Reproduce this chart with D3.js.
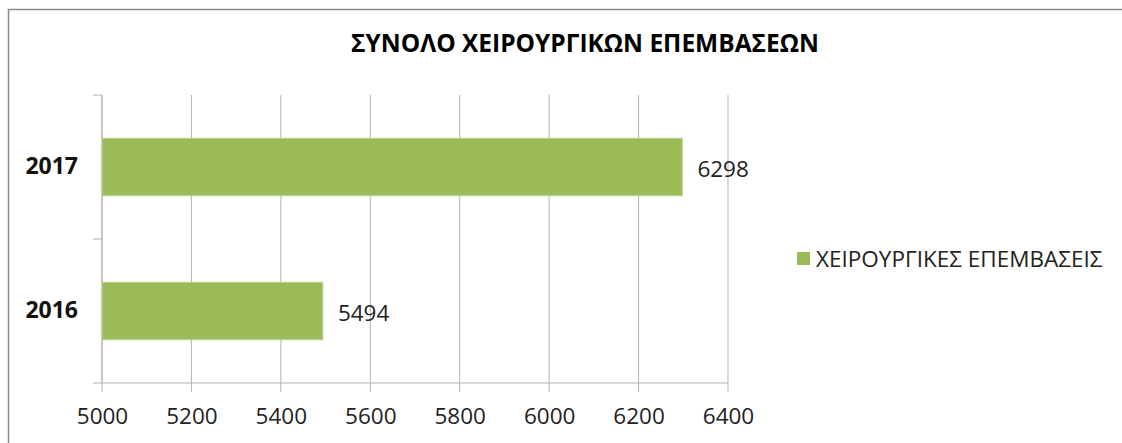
<!DOCTYPE html>
<html>
<head>
<meta charset="utf-8">
<script src="https://cdn.jsdelivr.net/npm/d3@7"></script>
<style>
  body { margin: 0; background: #fff; }
  text { font-family: "Open Sans", "DejaVu Sans", sans-serif; }
</style>
</head>
<body>
<div id="chart"></div>
<script>
// data
var years = ["2017", "2016"];
var surgeries = [6298, 5494];
var xTicks = [5000, 5200, 5400, 5600, 5800, 6000, 6200, 6400];
var seriesName = "ΧΕΙΡΟΥΡΓΙΚΕΣ ΕΠΕΜΒΑΣΕΙΣ";
var title = "ΣΥΝΟΛΟ ΧΕΙΡΟΥΡΓΙΚΩΝ ΕΠΕΜΒΑΣΕΩΝ";

var W = 1122, H = 443;
var margin = {top: 95, left: 102, right: 394, bottom: 60};
var width = W - margin.left - margin.right,
    height = H - margin.top - margin.bottom;

var svg = d3.select("#chart").append("svg")
    .attr("width", W)
    .attr("height", H);

// outer chart frame (runs off the right/bottom edge)
svg.append("rect")
    .attr("x", 8.5).attr("y", 9.5)
    .attr("width", W + 20).attr("height", H + 20)
    .attr("fill", "none")
    .attr("stroke", "#8a8a8a")
    .attr("stroke-width", 1.5);

svg.append("text")
    .attr("x", 585).attr("y", 52)
    .attr("text-anchor", "middle")
    .style("font-size", "24.5px")
    .style("font-weight", "bold")
    .text(title);

var g = svg.append("g")
    .attr("transform", "translate(" + margin.left + "," + margin.top + ")");

var x = d3.scaleLinear()
    .domain([5000, 6400])
    .range([0, width]);

var y = d3.scaleBand()
    .domain(years)
    .range([0, height])
    .paddingInner(0.6)
    .paddingOuter(0.3);

// gridlines
g.selectAll(".grid")
    .data(xTicks)
    .enter().append("line")
    .attr("x1", function(d) { return x(d); })
    .attr("x2", function(d) { return x(d); })
    .attr("y1", 0)
    .attr("y2", height + 9)
    .attr("stroke", "#b3b3b3")
    .attr("stroke-width", 1);

// bottom axis
var xAxis = g.append("g")
    .attr("transform", "translate(0," + height + ")")
    .call(d3.axisBottom(x).tickValues(xTicks).tickSize(0).tickPadding(25).tickFormat(d3.format("d")));
xAxis.select(".domain").remove();
xAxis.selectAll("text")
    .style("font-size", "22.5px")
    .attr("fill", "#222");
g.append("line")
    .attr("x1", -9).attr("x2", width)
    .attr("y1", height).attr("y2", height)
    .attr("stroke", "#b3b3b3");

// left axis: boundary ticks between categories
var yAxis = g.append("g")
    .call(d3.axisLeft(y).tickSize(0).tickPadding(24));
yAxis.select(".domain").remove();
yAxis.selectAll("text")
    .style("font-size", "23px")
    .style("font-weight", "bold")
    .attr("fill", "#111");
g.append("line")
    .attr("x1", 0).attr("x2", 0)
    .attr("y1", 0).attr("y2", height)
    .attr("stroke", "#b3b3b3");
g.selectAll(".ytick")
    .data([0, height / 2])
    .enter().append("line")
    .attr("x1", -9).attr("x2", 0)
    .attr("y1", function(d) { return d; })
    .attr("y2", function(d) { return d; })
    .attr("stroke", "#b3b3b3");

// bars
g.selectAll(".bar")
    .data(years)
    .enter().append("rect")
    .attr("x", x(5000))
    .attr("y", function(d) { return y(d); })
    .attr("width", function(d, i) { return x(surgeries[i]) - x(5000); })
    .attr("height", y.bandwidth())
    .attr("fill", "#9bbb59")
    .attr("stroke", "#c3d69b")
    .attr("stroke-width", 1);

// value labels
g.selectAll(".val")
    .data(years)
    .enter().append("text")
    .attr("x", function(d, i) { return x(surgeries[i]) + 15; })
    .attr("y", function(d) { return y(d) + y.bandwidth() / 2 + 2; })
    .attr("dy", "0.35em")
    .style("font-size", "22.5px")
    .attr("fill", "#222")
    .text(function(d, i) { return surgeries[i]; });

// legend
var legend = svg.append("g").attr("transform", "translate(797,252)");
legend.append("rect")
    .attr("width", 13).attr("height", 13)
    .attr("fill", "#9bbb59");
legend.append("text")
    .attr("x", 19).attr("y", 7)
    .attr("dy", "0.35em")
    .style("font-size", "22.5px")
    .attr("fill", "#222")
    .text(seriesName);
</script>
</body>
</html>
